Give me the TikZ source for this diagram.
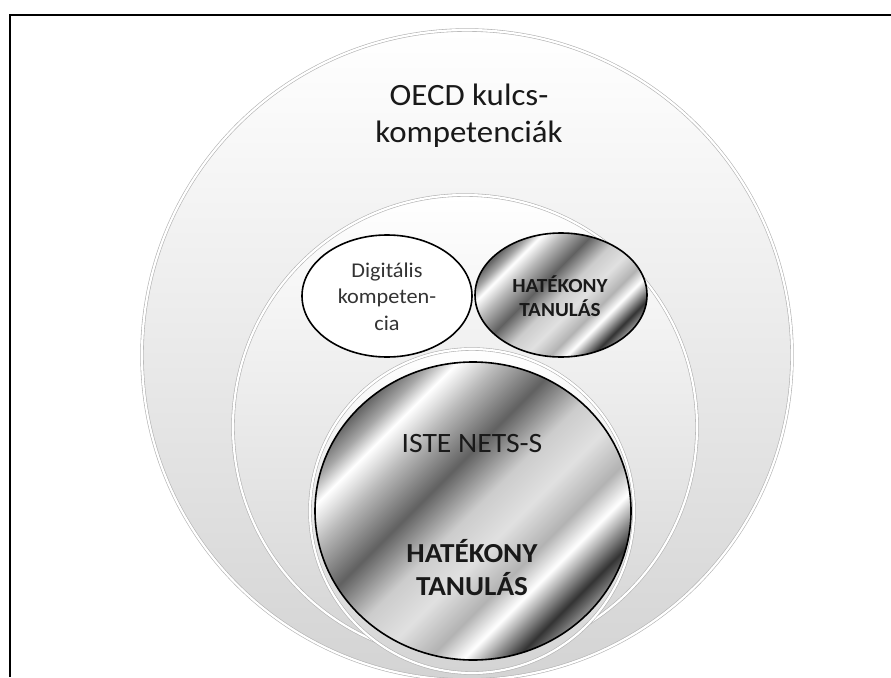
\documentclass[tikz,border=0pt]{standalone}
\usepackage{fontspec}
\setmainfont{Carlito}
\usepackage{graphicx}
\usetikzlibrary{shapes.geometric}
\pgfdeclarehorizontalshading{metal}{100bp}{color(0bp)=(black!45); color(25bp)=(black!60); color(28bp)=(black!35); color(31bp)=(white); color(36bp)=(black!28); color(43bp)=(black!62); color(50bp)=(black!20); color(56bp)=(black!12); color(62bp)=(black!30); color(66bp)=(white); color(69bp)=(black!40); color(72bp)=(black!80); color(75bp)=(black!45); color(100bp)=(black!45)}
\tikzset{
  ring/.style={circle, inner sep=0pt, draw=black!30, line width=0.6pt, double=white, double distance=2.2pt, top color=white, bottom color=black!17},
  metalshape/.style={ellipse, draw=black, line width=1.6pt, shading=metal, shading angle=-45, inner sep=0pt},
  plainell/.style={ellipse, draw=black, line width=1.6pt, fill=white, inner sep=0pt},
  lbl/.style={anchor=base, inner sep=0pt, text=black!90},
  frameline/.style={line width=1.8pt, black}
}
\begin{document}
\begin{tikzpicture}[x=1pt,y=-1pt]
\useasboundingbox (0,0) rectangle (891,677);
\clip (0,0) rectangle (891,677);
\fill[white] (0,0) rectangle (891,677);
% frame
\coordinate (fbot) at (10,677);
\coordinate (fcorner) at (10,15);
\coordinate (fright) at (891,15);
\draw[frameline] (fbot) -- (fcorner) -- (fright);
% nested circles
\node[ring, minimum size=650pt] (outer) at (467,355) {};
\node[ring, minimum size=464pt] (middle) at (465,427) {};
\node[ring, minimum size=324pt] (inner) at (472,511) {};
% metallic ISTE ellipse
\node[metalshape, minimum width=316pt, minimum height=298pt] (iste) at (473,511) {};
% small ellipses
\node[plainell, minimum width=170pt, minimum height=122pt] (digi) at (387,296) {};
\node[metalshape, minimum width=172pt, minimum height=124pt] (hatsmall) at (561,295) {};
% texts
\node[lbl, font=\fontsize{31}{37}\selectfont] (oecd1) at (469,105) {\scalebox{1.06}[1]{OECD kulcs-}};
\node[lbl, font=\fontsize{31}{37}\selectfont] (oecd2) at (469,142) {\scalebox{1.06}[1]{kompetenciák}};
\node[lbl, text=black!80, font=\fontsize{21}{25}\selectfont] (digi1) at (387,277) {\scalebox{1.06}[1]{Digitális}};
\node[lbl, text=black!80, font=\fontsize{21}{25}\selectfont] (digi2) at (387,303) {\scalebox{1.06}[1]{kompeten-}};
\node[lbl, text=black!80, font=\fontsize{21}{25}\selectfont] (digi3) at (387,330) {\scalebox{1.06}[1]{cia}};
\node[lbl, font=\bfseries\fontsize{20}{24}\selectfont] (hs1) at (560,292) {\scalebox{1.06}[1]{HATÉKONY}};
\node[lbl, font=\bfseries\fontsize{20}{24}\selectfont] (hs2) at (560,316) {\scalebox{1.06}[1]{TANULÁS}};
\node[lbl, font=\fontsize{28}{33}\selectfont] (iste1) at (472,452) {\scalebox{1.06}[1]{ISTE NETS-S}};
\node[lbl, font=\bfseries\fontsize{27.5}{33}\selectfont] (hb1) at (472,562) {\scalebox{1.06}[1]{HATÉKONY}};
\node[lbl, font=\bfseries\fontsize{27.5}{33}\selectfont] (hb2) at (472,595) {\scalebox{1.06}[1]{TANULÁS}};
\end{tikzpicture}
\end{document}
